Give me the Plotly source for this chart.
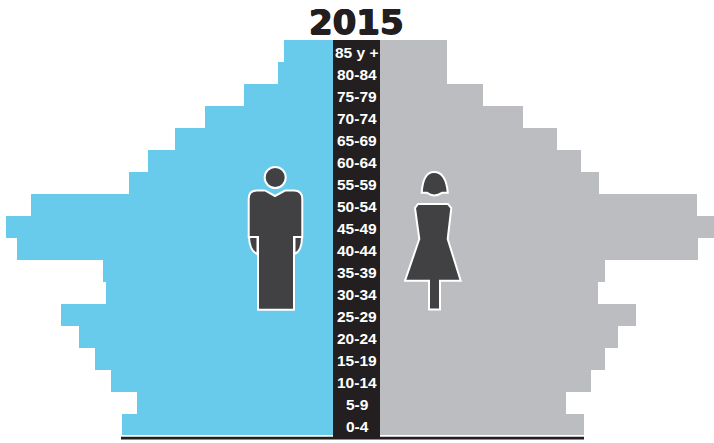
import plotly.graph_objects as go

W, H = 714, 443
ages = ["0-4", "5-9", "10-14", "15-19", "20-24", "25-29", "30-34", "35-39", "40-44",
        "45-49", "50-54", "55-59", "60-64", "65-69", "70-74", "75-79", "80-84", "85 y +"]
men = [211, 196, 222, 238, 254, 272, 227, 230, 316, 327, 302, 204, 185, 158, 128, 89, 55, 49]
women = [204, 186, 211, 225, 238, 256, 218, 225, 318, 334, 317, 219, 201, 177, 143, 103, 67, 67]

BLUE, GRAY, DARK, ICON = "#68CBEC", "#BCBDC0", "#231F20", "#414042"

def px(x):
    return x / W

def py(y):
    return 1 - y / H

def draw(*cmds):
    """Each command is (letter, x, y, [x, y...]) in page pixels; returns an SVG path in paper units."""
    out = []
    for c in cmds:
        nums = c[1:]
        pairs = [f"{px(nums[i]):.5f},{py(nums[i + 1]):.5f}" for i in range(0, len(nums), 2)]
        out.append(c[0] + " ".join(pairs))
    return " ".join(out) + " Z"

def icon(d):
    return dict(type="path", xref="paper", yref="paper", path=d, fillcolor=ICON,
                line=dict(color="white", width=2), layer="above")

man_body = draw(("M", 248.7, 199), ("Q", 248.7, 190.5, 257, 190.5), ("L", 265, 190.5), ("L", 275, 196),
                ("L", 285, 190.5), ("L", 294, 190.5), ("Q", 302.3, 190.5, 302.3, 199), ("L", 302.3, 237),
                ("L", 294, 237), ("L", 294, 309.8), ("L", 258, 309.8), ("L", 258, 237), ("L", 248.7, 237))
man_left_hand = draw(("M", 249.5, 237), ("L", 257.5, 237), ("L", 257.5, 254), ("Q", 249.5, 251, 249, 237))
man_right_hand = draw(("M", 302, 237), ("L", 294.5, 237), ("L", 294.5, 254), ("Q", 302, 251, 302, 237))
woman_hair = draw(("M", 421.7, 192.8), ("Q", 423, 172, 434, 172), ("Q", 446, 172, 447.8, 192.8),
                  ("L", 442, 192.8), ("Q", 434, 198, 427, 192.8))
woman_dress = draw(("M", 415, 208), ("L", 418, 204), ("L", 448, 204), ("L", 451.3, 208), ("L", 447.7, 239),
                   ("L", 460.7, 280.8), ("L", 440, 280.8), ("L", 440, 309.6), ("L", 429, 309.6),
                   ("L", 429, 280.8), ("L", 405, 280.8), ("L", 419.3, 239))

shapes = [
    dict(type="rect", xref="paper", yref="paper", x0=px(333), x1=px(380), y0=py(437), y1=py(40),
         fillcolor=DARK, line_width=0, layer="above"),
    dict(type="rect", xref="paper", yref="paper", x0=px(121), x1=px(584), y0=py(439.5), y1=py(436.7),
         fillcolor=DARK, line_width=0, layer="above"),
    dict(type="circle", xref="paper", yref="paper", x0=px(264.7), x1=px(285.7), y0=py(188), y1=py(167),
         fillcolor=ICON, line=dict(color="white", width=2), layer="above"),
    icon(man_left_hand), icon(man_right_hand), icon(man_body),
    icon(woman_hair), icon(woman_dress),
]

fig = go.Figure()
fig.add_trace(go.Bar(y=ages, x=men, orientation="h", marker=dict(color=BLUE, line_width=0),
                     xaxis="x", yaxis="y", showlegend=False, hoverinfo="y+x"))
fig.add_trace(go.Bar(y=ages, x=women, orientation="h", marker=dict(color=GRAY, line_width=0),
                     xaxis="x2", yaxis="y", showlegend=False, hoverinfo="y+x"))

annotations = [dict(x=px(357), y=yv, xref="paper", yref="y", text=f"<b>{yv}</b>", showarrow=False,
                    font=dict(family="Liberation Sans", size=15.5, color="white"), yshift=-2)
               for yv in ages]
annotations.append(dict(x=px(356), y=py(22), xref="paper", yref="paper", text="<b>2015</b>", showarrow=False,
                        font=dict(family="DejaVu Sans", size=34, color=DARK,
                                  shadow="0.7px 0 0 #231F20, -0.7px 0 0 #231F20, 0 0.5px 0 #231F20, 0 -0.5px 0 #231F20"),
                        yanchor="middle"))

fig.update_layout(
    width=W, height=H, margin=dict(l=0, r=0, t=0, b=0), paper_bgcolor="white", plot_bgcolor="white",
    bargap=0, shapes=shapes, annotations=annotations,
    xaxis=dict(domain=[0, px(333)], range=[333, 0], visible=False, fixedrange=True),
    xaxis2=dict(domain=[px(380), 1], range=[0, 334], visible=False, fixedrange=True),
    yaxis=dict(domain=[py(437), py(40)], type="category", categoryorder="array", categoryarray=ages,
               visible=False, fixedrange=True),
)
fig.write_html("out.html", config={"displayModeBar": False},
               post_script="document.body.style.margin='0';document.body.style.overflow='hidden';")
